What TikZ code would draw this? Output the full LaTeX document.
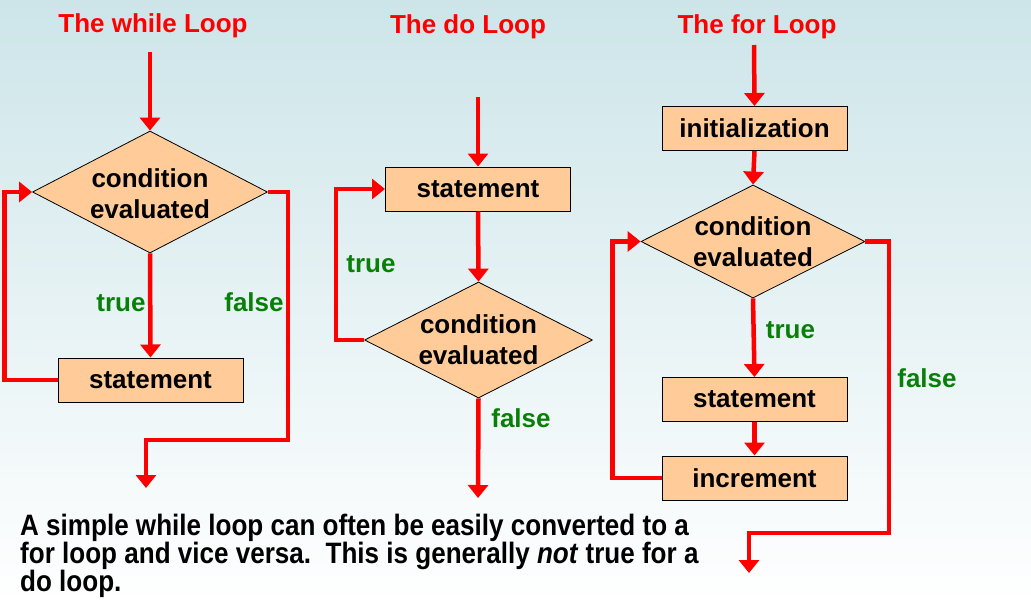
\documentclass[tikz,border=0pt]{standalone}
\usepackage{fontspec}
\setmainfont{Liberation Sans}
\newfontfamily\notefont[FakeStretch=0.883]{Liberation Sans}
\usetikzlibrary{arrows.meta,shapes.geometric}
\definecolor{flowred}{RGB}{255,0,0}
\definecolor{flowgreen}{RGB}{8,128,8}
\definecolor{boxfill}{RGB}{255,204,153}
\definecolor{skytop}{RGB}{205,229,233}
\tikzset{
  arr/.style={draw=flowred, line width=4.5pt, -{Triangle[width=20pt,length=13pt]}},
  stepbox/.style={draw=black, line width=1pt, fill=boxfill, minimum width=185pt, minimum height=44pt, inner sep=0pt,
    font=\fontsize{26pt}{30pt}\selectfont\bfseries},
  decide/.style={diamond, draw=black, line width=0.8pt, fill=boxfill, inner sep=0pt},
  decidetext/.style={align=center, inner sep=0pt, font=\fontsize{26pt}{31pt}\selectfont\bfseries},
  title/.style={anchor=base, text=flowred, font=\fontsize{26pt}{30pt}\selectfont\bfseries},
  tf/.style={anchor=base, text=flowgreen, font=\fontsize{26pt}{30pt}\selectfont\bfseries},
}
\begin{document}
\begin{tikzpicture}[x=1pt,y=-1pt]
\useasboundingbox (0,0) rectangle (1031,605);
\fill[top color=skytop, bottom color=white] (0,0) rectangle (1031,605);

% ---- while loop ----
\node[title] (tw) at (153,32) {The while Loop};
\coordinate (w0) at (150,52);
\node[decide, minimum width=235pt, minimum height=122pt] (wc) at (150,192) {};
\node[decidetext] (wct) at ([yshift=-2pt]wc.center) {condition\\evaluated};
\node[stepbox] (ws) at (150.5,380) {statement};
\coordinate (wcorner) at (288,440);
\coordinate (wend) at (146,488);
\draw[arr] (w0) -- (wc.north);
\draw[arr] (wc.south) -- (ws.north);
\draw[arr] (ws.west) -- ++(-53,0) |- (wc.west);
\draw[arr] (wc.east) -| (wcorner) -| (wend);
\node[tf] (wt) at (121,311) {true};
\node[tf] (wf) at (254,311.5) {false};

% ---- do loop ----
\node[title] (td) at (468,34) {The do Loop};
\coordinate (d0) at (478,97);
\node[stepbox] (ds) at (478,189) {statement};
\node[decide, minimum width=228pt, minimum height=116pt] (dc) at (478.5,340) {};
\node[decidetext] (dct) at (dc) {condition\\evaluated};
\coordinate (dend) at (478,498);
\draw[arr] (d0) -- (ds.north);
\draw[arr] (ds.south) -- (dc.north);
\draw[arr] (dc.west) -- ++(-28,0) |- (ds.west);
\draw[arr] (dc.south) -- (dend);
\node[tf] (dt) at (371,272.5) {true};
\node[tf] (df) at (521,427) {false};

% ---- for loop ----
\node[title] (tf) at (757,34) {The for Loop};
\coordinate (f0) at (754,45);
\node[stepbox] (fi) at (754.5,128.5) {initialization};
\node[decide, minimum width=224pt, minimum height=113pt] (fc) at (753,241.5) {};
\node[decidetext] (fct) at (fc) {condition\\evaluated};
\node[stepbox] (fs) at (754.5,399.5) {statement};
\node[stepbox] (fn) at (754.5,478) {increment};
\coordinate (fcorner) at (889,533);
\coordinate (fend) at (749,573);
\draw[arr] (f0) -- (fi.north);
\draw[arr] (fi.south) -- (fc.north);
\draw[arr] (fc.south) -- (fs.north);
\draw[arr] (fs.south) -- (fn.north);
\draw[arr] (fn.west) -- ++(-49,0) |- (fc.west);
\draw[arr] (fc.east) -| (fcorner) -| (fend);
\node[tf] (ft) at (790.5,338) {true};
\node[tf] (ff) at (927,387) {false};

% ---- note ----
\node[anchor=base west, inner sep=0pt, align=left,
      font=\notefont\fontsize{29.5pt}{28pt}\selectfont\bfseries] (note) at (20,591)
  {A simple while loop can often be easily converted to a\\
   for loop and vice versa.\ \ This is generally \textit{not} true for a\\
   do loop.};
\end{tikzpicture}
\end{document}
